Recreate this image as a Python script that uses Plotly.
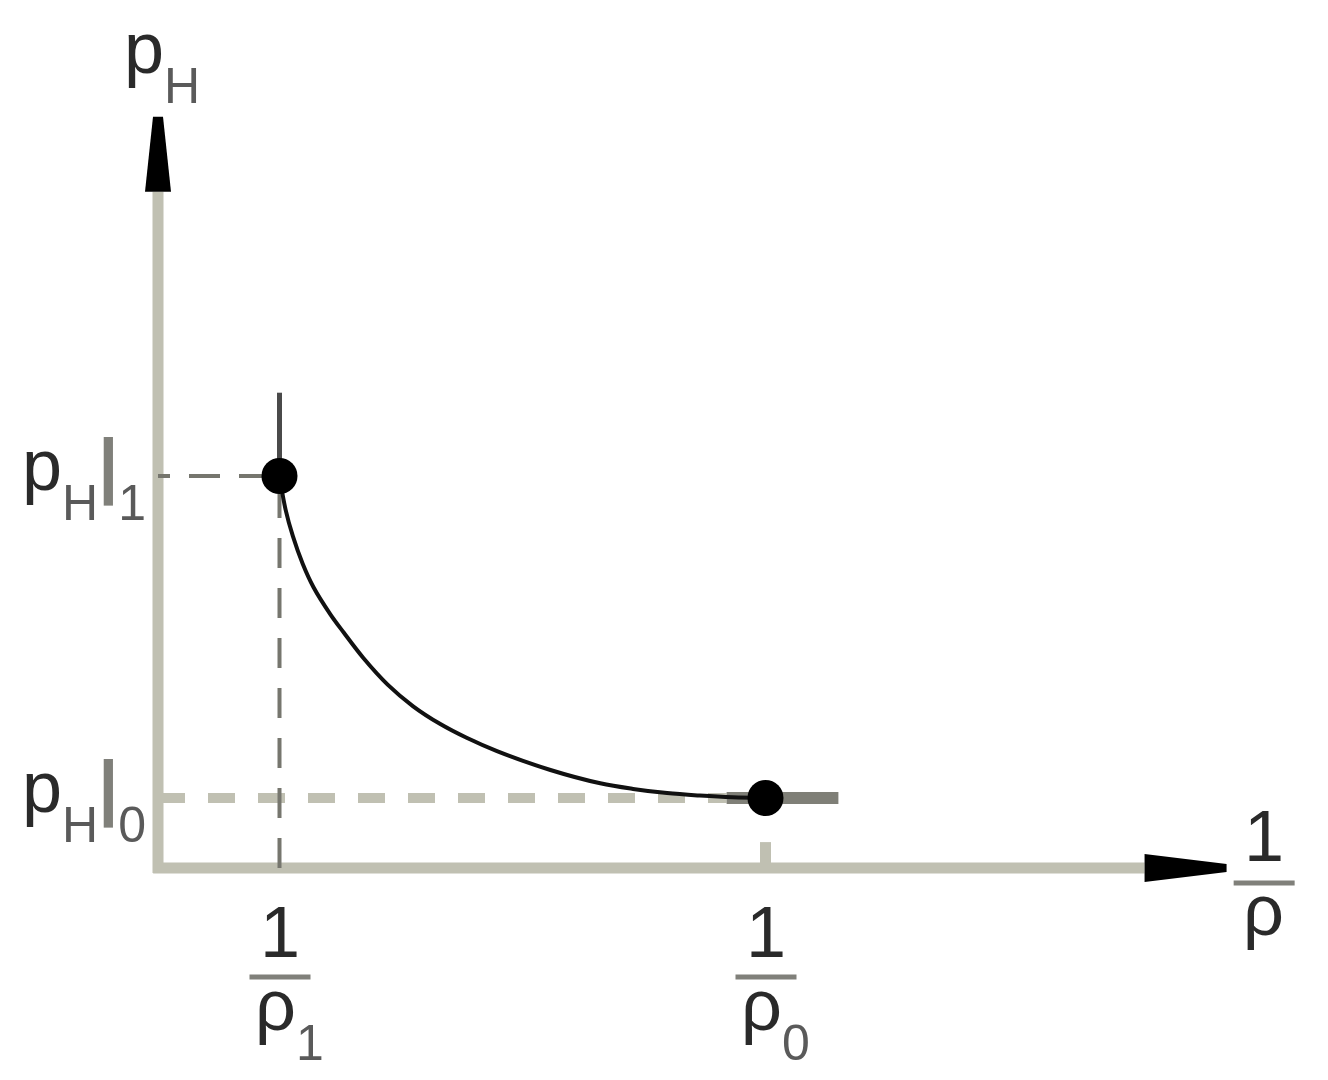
import plotly.graph_objects as go

# values: x is 1/rho, y is p_H
inv_rho = [1.0, 1.05, 1.11, 1.19, 1.28, 1.42, 1.53, 1.69, 1.89, 2.10, 2.32,
           2.54, 2.79, 3.23, 3.64, 3.91, 4.19, 4.46, 4.73, 5.0]
p_h = [5.6, 5.12, 4.74, 4.35, 4.01, 3.62, 3.36, 3.00, 2.62, 2.31, 2.06,
       1.86, 1.67, 1.40, 1.21, 1.13, 1.07, 1.035, 1.01, 1.0]

state_x = [1.0, 5.0]        # 1/rho_1, 1/rho_0
state_y = [5.6, 1.0]        # p_H|1, p_H|0
tail_x = [4.68, 5.6]        # flat continuation through state 0
stub_y = [5.6, 6.79]        # short vertical mark above state 1

Y_AXIS_END = 9.66
X_AXIS_END = 8.12

AXIS_C = "#c0c0b2"
DARK_C = "#76766e"
BAR_C = "#80807a"
TXT_C = "#2a2a2a"
SUB_C = "#5a5a5a"
FONT = "Liberation Sans, Arial, sans-serif"

fig = go.Figure()

# light grey dashed guide at p_H|0
fig.add_trace(go.Scatter(x=[0, tail_x[0]], y=[state_y[1]] * 2, mode="lines",
                         line=dict(color=AXIS_C, width=10, dash="27px,23px"),
                         hoverinfo="skip"))
# short light grey dash under state 0
fig.add_trace(go.Scatter(x=[state_x[1]] * 2, y=[0, 0.37], mode="lines",
                         line=dict(color=AXIS_C, width=11), hoverinfo="skip"))
# dark dashed guides for state 1
fig.add_trace(go.Scatter(x=[0, state_x[0]], y=[state_y[0]] * 2, mode="lines",
                         line=dict(color=DARK_C, width=4,
                                   dash="12px,19px,31px,19px,31px,19px,31px,19px"),
                         hoverinfo="skip"))
fig.add_trace(go.Scatter(x=[state_x[0]] * 2, y=[0, state_y[0]], mode="lines",
                         line=dict(color=DARK_C, width=4, dash="30px,20px"),
                         hoverinfo="skip"))
# flat tail and stub
fig.add_trace(go.Scatter(x=tail_x, y=[state_y[1]] * 2, mode="lines",
                         line=dict(color="#7f7f77", width=12), hoverinfo="skip"))
fig.add_trace(go.Scatter(x=[state_x[0]] * 2, y=stub_y, mode="lines",
                         line=dict(color="#4a4a4a", width=5), hoverinfo="skip"))
# Hugoniot curve
fig.add_trace(go.Scatter(x=inv_rho, y=p_h, mode="lines",
                         line=dict(color="#111111", width=4, shape="spline", smoothing=1.0),
                         hoverinfo="skip"))
fig.add_trace(go.Scatter(x=state_x, y=state_y, mode="markers",
                         marker=dict(color="#000000", size=36), hoverinfo="skip"))

# axes with arrow heads
shapes = [
    dict(type="line", layer="below", x0=0, x1=0, y0=-0.07, y1=Y_AXIS_END,
         line=dict(color=AXIS_C, width=11)),
    dict(type="line", layer="below", x0=-0.04, x1=X_AXIS_END, y0=0, y1=0,
         line=dict(color=AXIS_C, width=11)),
    dict(type="path", xsizemode="pixel", ysizemode="pixel", xanchor=0, yanchor=Y_AXIS_END,
         path="M -13,0 L 13,0 L 5,75 L -5,75 Z", fillcolor="#000000", line=dict(width=0)),
    dict(type="path", xsizemode="pixel", ysizemode="pixel", xanchor=X_AXIS_END, yanchor=0,
         path="M 0,-14 L 0,14 L 82,4 L 82,-4 Z", fillcolor="#000000", line=dict(width=0)),
]
# fraction bars under the x ticks and at the axis end
for xa, ya, yb in [(state_x[0], 0, -109), (state_x[1], 0, -109), (9.1, 0, -15)]:
    shapes.append(dict(type="line", xsizemode="pixel", ysizemode="pixel",
                       xanchor=xa, yanchor=ya, x0=-30, x1=31, y0=yb, y1=yb,
                       line=dict(color=BAR_C, width=5)))


def sub(t, shift=30):
    return (f'<span style="font-size:50px;baseline-shift:-{shift}px;'
            f'fill:{SUB_C}">{t}</span>')


bar = f'<span style="font-weight:bold;fill:{BAR_C}">|</span>'

ann = [
    dict(x=0, y=11.45, text="p" + sub("H"), xanchor="center", yanchor="middle",
         xshift=4, yshift=6),
    dict(x=0, y=state_y[0], text="p" + sub("H") + bar + sub("1"),
         xanchor="right", yanchor="middle", xshift=-10, yshift=-2),
    dict(x=0, y=state_y[1], text="p" + sub("H") + bar + sub("0"),
         xanchor="right", yanchor="middle", xshift=-10, yshift=-2),
    dict(x=state_x[0], y=0, text="1", xanchor="center", yanchor="middle", yshift=-64),
    dict(x=state_x[0], y=0, text="ρ" + sub("1"), xanchor="center", yanchor="middle",
         xshift=10, yshift=-150),
    dict(x=state_x[1], y=0, text="1", xanchor="center", yanchor="middle", yshift=-64),
    dict(x=state_x[1], y=0, text="ρ" + sub("0"), xanchor="center", yanchor="middle",
         xshift=10, yshift=-150),
    dict(x=9.1, y=0, text="1", xanchor="center", yanchor="middle", yshift=32),
    dict(x=9.1, y=0, text="ρ", xanchor="center", yanchor="middle", yshift=-42),
]
for a in ann:
    a.update(showarrow=False, font=dict(family=FONT, size=72, color=TXT_C))

# the page puts the plot 8px in from the top-left corner
fig.update_layout(
    width=1320, height=1072,
    margin=dict(l=0, r=0, t=0, b=0),
    paper_bgcolor="#ffffff", plot_bgcolor="#ffffff",
    showlegend=False,
    xaxis=dict(range=[-150 / 121.5, 1170 / 121.5], visible=False, fixedrange=True),
    yaxis=dict(range=[-212 / 70, 860 / 70], visible=False, fixedrange=True),
    shapes=shapes, annotations=ann,
)

fig.write_html("out.html")
